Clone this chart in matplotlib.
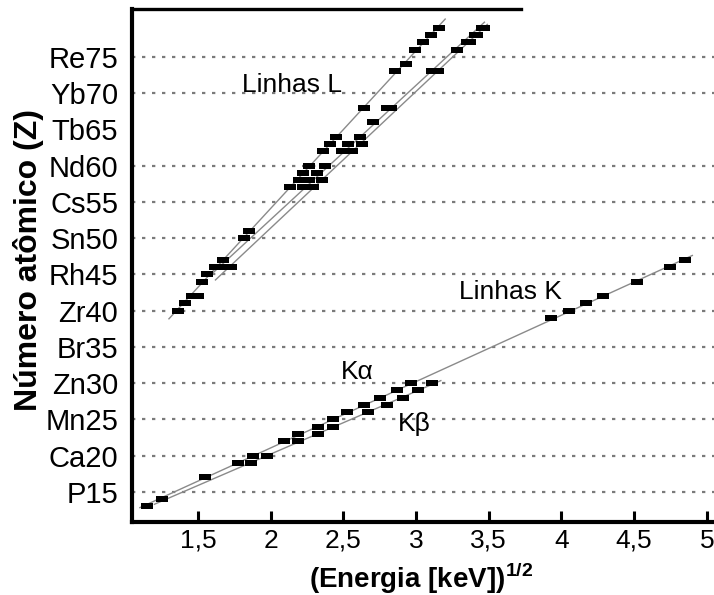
import matplotlib
matplotlib.use("Agg")
import matplotlib.pyplot as plt
import numpy as np
from matplotlib.path import Path

plt.rcParams['font.family'] = ['Liberation Sans', 'DejaVu Sans']
plt.rcParams['mathtext.fontset'] = 'custom'
plt.rcParams['mathtext.rm'] = 'Liberation Sans'
plt.rcParams['mathtext.bf'] = 'Liberation Sans:bold'

# ---------------- data ----------------
y_ticks = [15, 20, 25, 30, 35, 40, 45, 50, 55, 60, 65, 70, 75]
y_tick_labels = ["P15", "Ca20", "Mn25", "Zn30", "Br35", "Zr40", "Rh45",
                 "Sn50", "Cs55", "Nd60", "Tb65", "Yb70", "Re75"]
x_ticks = [1.5, 2, 2.5, 3, 3.5, 4, 4.5, 5]
x_tick_labels = ["1,5", "2", "2,5", "3", "3,5", "4", "4,5", "5"]

# K lines
ka_x = [1.147, 1.25, 1.548, 1.773, 1.877, 2.09, 2.188, 2.323, 2.427, 2.526,
        2.643, 2.755, 2.87, 2.967, 3.928, 4.053, 4.17, 4.286, 4.52, 4.746, 4.85]
ka_z = [13, 14, 17, 19, 20, 22, 23, 24, 25, 26,
        27, 28, 29, 30, 39, 40, 41, 42, 44, 46, 47]
kb_x = [1.864, 1.975, 2.188, 2.323, 2.427, 2.669, 2.798, 2.91, 3.014, 3.11]
kb_z = [19, 20, 22, 23, 24, 26, 27, 28, 29, 30]

# L lines
la_x = [1.36, 1.41, 1.457, 1.525, 1.564, 1.617, 1.67, 1.816, 1.85, 2.133,
        2.197, 2.22, 2.265, 2.362, 2.408, 2.449, 2.64, 2.855, 2.93, 2.99,
        3.045, 3.10, 3.16]
la_z = [40, 41, 42, 44, 45, 46, 47, 50, 51, 57,
        58, 59, 60, 62, 63, 64, 68, 73, 74, 76,
        77, 78, 79]
lb1_x = [1.50, 1.674, 2.22, 2.265, 2.32, 2.373, 2.487, 2.533, 2.614, 2.706,
         2.80, 3.106, 3.28, 3.35, 3.405, 3.45]
lb1_z = [42, 46, 57, 58, 59, 60, 62, 63, 64, 66,
         68, 73, 76, 77, 78, 79]
lb2_x = [1.73, 2.293, 2.35, 2.556, 2.625, 2.83, 3.15, 3.37, 3.42, 3.47]
lb2_z = [46, 57, 58, 62, 63, 68, 73, 77, 78, 79]

# ---------------- figure ----------------
fig = plt.figure(figsize=(7.14, 5.95), dpi=100)
ax = fig.add_axes([0.1849, 0.1227, 0.8151, 0.8622])
ax.set_xlim(1.046, 5.049)
ax.set_ylim(10.86, 81.62)

rect = Path([(-1.6, -1), (1.6, -1), (1.6, 1), (-1.6, 1), (-1.6, -1)],
            [Path.MOVETO, Path.LINETO, Path.LINETO, Path.LINETO, Path.CLOSEPOLY])

line_color = '#8a8a8a'


def fit_line(xs, zs, x0, x1):
    p = np.polyfit(xs, zs, 1)
    xx = np.array([x0, x1])
    ax.plot(xx, np.polyval(p, xx), color=line_color, lw=1.0, zorder=2)


fit_line(ka_x, ka_z, 1.10, 4.90)
fit_line(kb_x, kb_z, 1.20, 3.17)
fit_line(la_x, la_z, 1.30, 3.20)
fit_line(lb1_x, lb1_z, 1.58, 3.47)
fit_line(lb2_x, lb2_z, 1.62, 3.49)

for xs, zs in [(ka_x, ka_z), (kb_x, kb_z), (la_x, la_z), (lb1_x, lb1_z), (lb2_x, lb2_z)]:
    ax.plot(xs, zs, linestyle='none', marker=rect, markersize=8,
            color='black', markeredgewidth=0, zorder=3)

# axes styling
ax.set_yticks(y_ticks)
ax.set_yticklabels(y_tick_labels)
ax.set_xticks(x_ticks)
ax.set_xticklabels(x_tick_labels)
ax.tick_params(axis='y', length=0, pad=10, labelsize=21)
ax.tick_params(axis='x', direction='in', length=8, width=2.2, pad=5, labelsize=19)

for s in ['left', 'bottom']:
    ax.spines[s].set_linewidth(3.0)
ax.spines['top'].set_linewidth(2.4)
ax.spines['top'].set_bounds(1.046, 3.72)
ax.spines['right'].set_visible(False)

ax.grid(axis='y', color='#7a7a7a', linestyle=(0, (1.5, 3.0)), linewidth=1.6, zorder=1)
for val, gl in zip(y_ticks, ax.get_ygridlines()):
    if val == 65:
        gl.set_visible(False)

ax.set_xlabel(r'(Energia [keV])$^{\mathbf{1/2}}$', fontsize=20, fontweight='bold')
ax.xaxis.set_label_coords(0.497, -0.11)
ax.xaxis.label.set_va('center')
ax.set_ylabel('Número atômico (Z)', fontsize=23, fontweight='bold')
ax.yaxis.set_label_coords(-0.178, 0.51)
ax.yaxis.label.set_va('center')

ax.text(2.146, 71.1, 'Linhas L', fontsize=19, ha='center', va='center')
ax.text(3.646, 42.6, 'Linhas K', fontsize=19, ha='center', va='center')
ax.text(2.594, 31.55, 'Kα', fontsize=19, ha='center', va='center')
ax.text(2.99, 24.4, 'Kβ', fontsize=19, ha='center', va='center')

fig.savefig('out.png', dpi=100)
